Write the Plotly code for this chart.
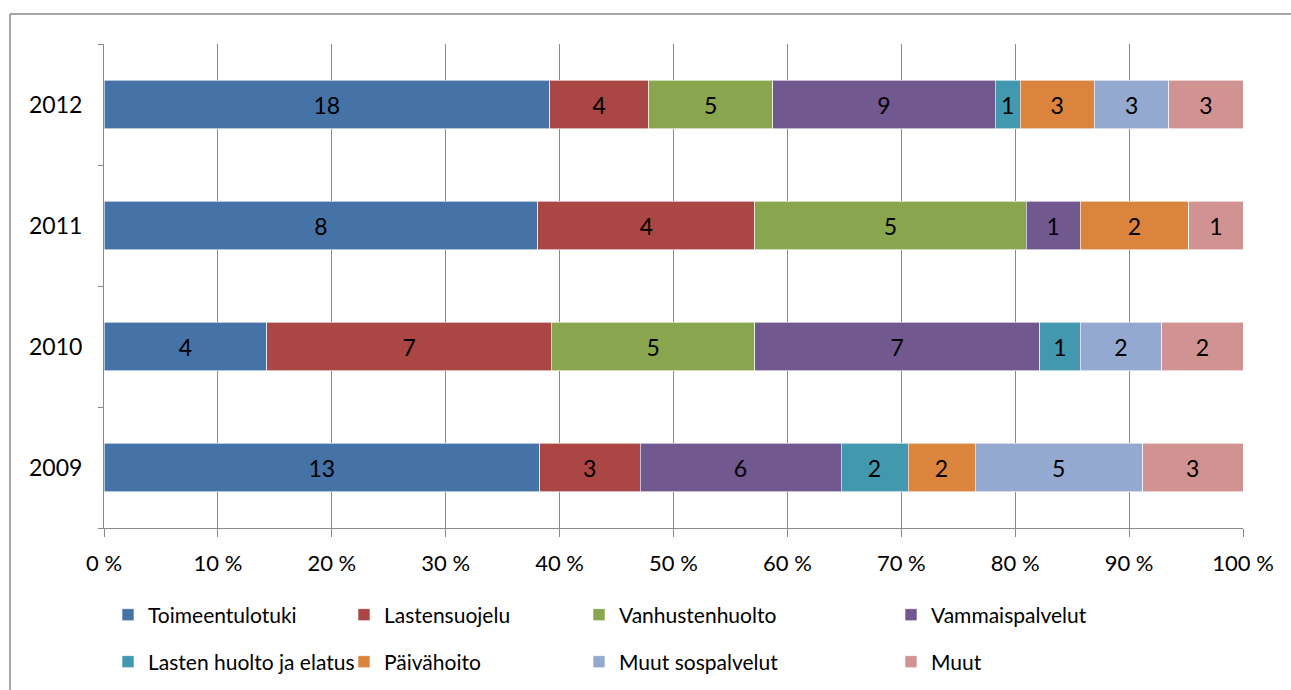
import plotly.graph_objects as go

# Years on the category axis (bottom to top)
years = ["2009", "2010", "2011", "2012"]

# Number of cases per category and year (same order as years)
toimeentulotuki = [13, 4, 8, 18]
lastensuojelu = [3, 7, 4, 4]
vanhustenhuolto = [0, 5, 5, 5]
vammaispalvelut = [6, 7, 1, 9]
lasten_huolto = [2, 1, 0, 1]
paivahoito = [2, 0, 2, 3]
muut_sospalvelut = [5, 2, 0, 3]
muut = [3, 2, 1, 3]

series = [
    ("Toimeentulotuki", toimeentulotuki, "#4572A7"),
    ("Lastensuojelu", lastensuojelu, "#AA4643"),
    ("Vanhustenhuolto", vanhustenhuolto, "#89A54E"),
    ("Vammaispalvelut", vammaispalvelut, "#71588F"),
    ("Lasten huolto ja elatus", lasten_huolto, "#4198AF"),
    ("Päivähoito", paivahoito, "#DB843D"),
    ("Muut sospalvelut", muut_sospalvelut, "#93A9CF"),
    ("Muut", muut, "#D19392"),
]

FONT = "Lato"
FS = 23
LEG_FS = 21
GRAY = "#898989"

W, H = 1291, 690
ML, MR, MT, MB = 104, 48, 44, 162
PW, PH = W - ML - MR, H - MT - MB


def px_x(p):
    return (p - ML) / PW


def px_y(p):
    return (H - MB - p) / PH


# Legend grid: 4 columns x 2 rows (left pixel of swatch, row centre pixel)
col_px = [122, 358, 593, 905]
row_px = [615, 662]

fig = go.Figure()
legend_layouts = {}
for i, (name, vals, color) in enumerate(series):
    lname = "legend" if i == 0 else f"legend{i + 1}"
    fig.add_trace(go.Bar(
        y=years,
        x=vals,
        name=name,
        orientation="h",
        marker=dict(color=color, line=dict(color="#ffffff", width=0.6)),
        text=[str(v) if v else "" for v in vals],
        textposition="inside",
        insidetextanchor="middle",
        textangle=0,
        constraintext="none",
        textfont=dict(family=FONT, size=FS, color="#000000"),
        hoverinfo="name+x",
        legend=lname,
    ))
    col, row = i % 4, i // 4
    legend_layouts[lname] = dict(
        x=px_x(col_px[col] - 14), y=px_y(row_px[row]),
        xanchor="left", yanchor="middle",
        orientation="v",
        bgcolor="rgba(0,0,0,0)",
        font=dict(family=FONT, size=LEG_FS, color="#000000"),
        itemwidth=30,
    )

fig.update_layout(
    barmode="stack",
    barnorm="percent",
    bargap=0.6,
    width=W, height=H,
    margin=dict(l=ML, r=MR, t=MT, b=MB, autoexpand=False),
    paper_bgcolor="#ffffff",
    plot_bgcolor="#ffffff",
    font=dict(family=FONT, size=FS, color="#000000"),
    showlegend=True,
    **legend_layouts,
    xaxis=dict(
        range=[0, 100],
        tick0=0, dtick=10,
        ticksuffix=" %",
        showgrid=True, gridcolor=GRAY, gridwidth=1,
        showline=True, linecolor=GRAY, linewidth=1,
        ticks="outside", ticklen=8, tickcolor=GRAY,
        zeroline=False,
        ticklabelstandoff=8,
        tickangle=0,
        tickfont=dict(family=FONT, size=FS - 1),
        fixedrange=True,
    ),
    yaxis=dict(
        type="category",
        categoryorder="array", categoryarray=years,
        showgrid=False,
        showline=True, linecolor=GRAY, linewidth=1,
        ticks="outside", ticklen=5, tickcolor=GRAY,
        tickson="boundaries",
        ticklabelstandoff=16,
        tickfont=dict(family=FONT, size=FS),
        fixedrange=True,
    ),
    shapes=[
        # chart frame (left and top edges)
        dict(type="line", xref="paper", yref="paper",
             x0=px_x(10), x1=px_x(10), y0=px_y(14), y1=px_y(700),
             line=dict(color=GRAY, width=1.5)),
        dict(type="line", xref="paper", yref="paper",
             x0=px_x(10), x1=px_x(1300), y0=px_y(14), y1=px_y(14),
             line=dict(color=GRAY, width=1.5)),
    ],
)

fig.write_html("out.html")
